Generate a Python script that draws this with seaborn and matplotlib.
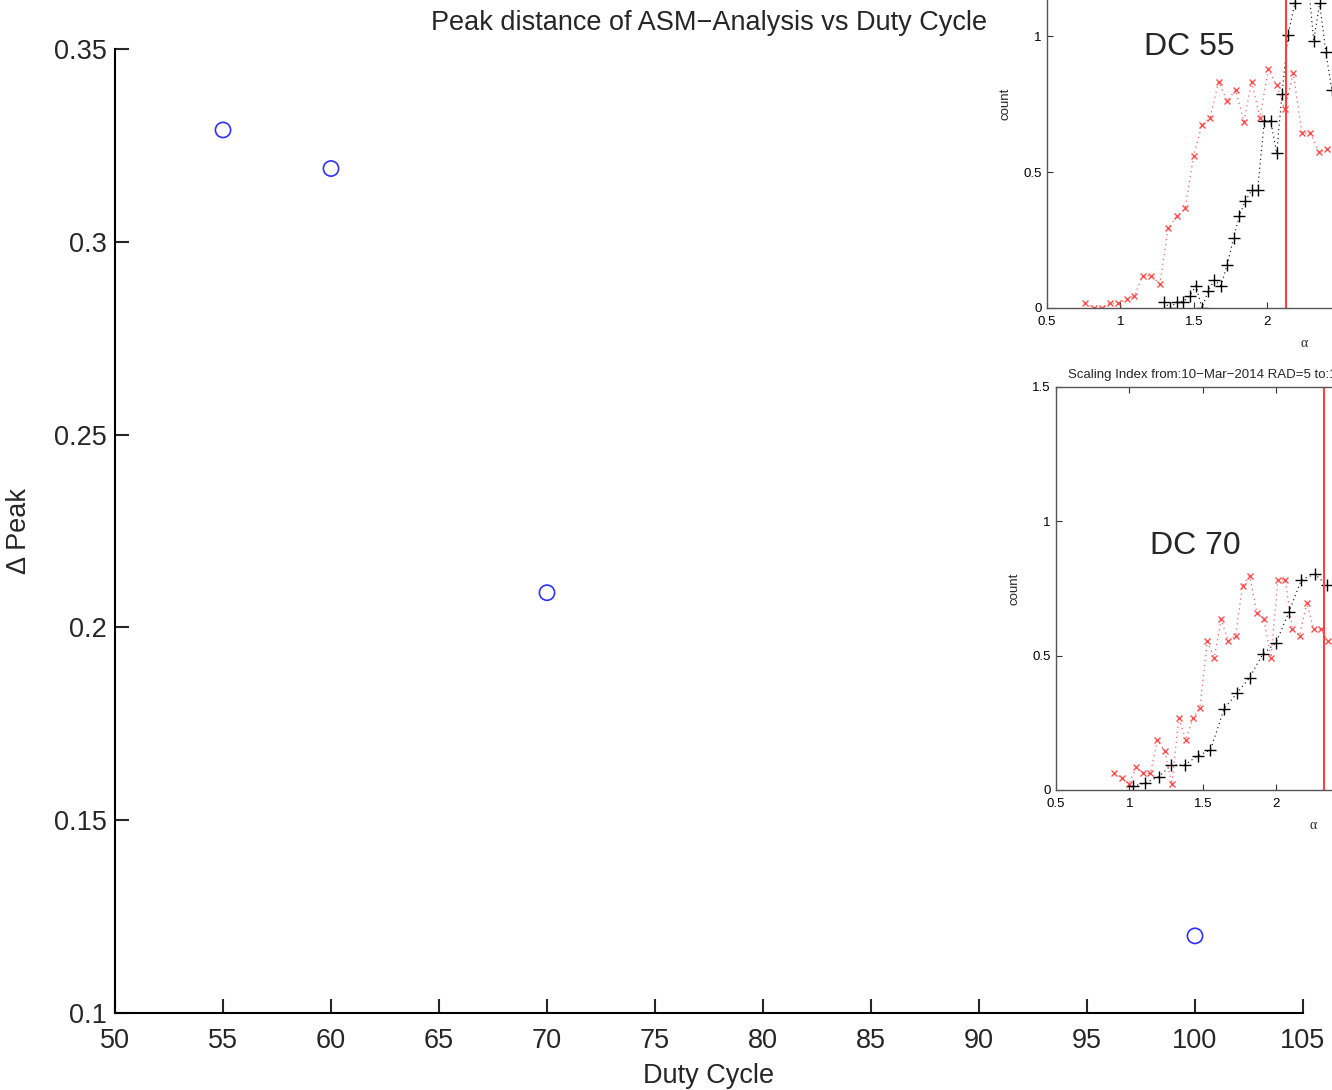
import matplotlib
matplotlib.use("Agg")
import matplotlib.pyplot as plt
import seaborn as sns
import numpy as np

# main chart data
duty_cycle = [55, 60, 70, 100]
delta_peak = [0.329, 0.319, 0.209, 0.120]

# inset DC 55 (scaling index histograms)
dc55_red_alpha = [0.761, 0.818, 0.875, 0.93, 0.986, 1.043, 1.095, 1.152, 1.211, 1.268,
                  1.325, 1.384, 1.441, 1.498, 1.555, 1.611, 1.668, 1.727, 1.784, 1.841,
                  1.893, 1.95, 2.007, 2.064, 2.12, 2.177, 2.236, 2.293, 2.35, 2.407]
dc55_red_count = [0.018, 0.0, 0.0, 0.018, 0.018, 0.033, 0.045, 0.119, 0.119, 0.088,
                  0.294, 0.337, 0.367, 0.559, 0.673, 0.700, 0.832, 0.761, 0.802, 0.685,
                  0.832, 0.700, 0.878, 0.819, 0.731, 0.863, 0.643, 0.643, 0.572, 0.585]
dc55_blk_alpha = [1.295, 1.339, 1.386, 1.427, 1.473, 1.514, 1.555, 1.598, 1.639, 1.684,
                  1.727, 1.77, 1.809, 1.85, 1.893, 1.934, 1.98, 2.023, 2.064, 2.10,
                  2.141, 2.187, 2.23, 2.27, 2.316, 2.357, 2.398, 2.44]
dc55_blk_count = [0.023, 0.0, 0.023, 0.023, 0.045, 0.082, 0.0, 0.064, 0.102, 0.082,
                  0.159, 0.257, 0.337, 0.394, 0.432, 0.432, 0.689, 0.689, 0.569, 0.786,
                  1.004, 1.12, 1.30, 1.25, 0.983, 1.12, 0.942, 0.80]
dc55_mark = 2.127

# inset DC 70
dc70_red_alpha = [0.898, 0.948, 0.995, 1.045, 1.095, 1.143, 1.191, 1.239, 1.289, 1.336,
                  1.384, 1.432, 1.48, 1.53, 1.577, 1.625, 1.673, 1.723, 1.77, 1.818,
                  1.868, 1.916, 1.964, 2.011, 2.061, 2.109, 2.159, 2.207, 2.255, 2.305,
                  2.352]
dc70_red_count = [0.062, 0.045, 0.022, 0.084, 0.062, 0.062, 0.186, 0.146, 0.022, 0.267,
                  0.186, 0.267, 0.307, 0.553, 0.493, 0.635, 0.553, 0.575, 0.759, 0.798,
                  0.660, 0.637, 0.493, 0.783, 0.783, 0.598, 0.575, 0.697, 0.598, 0.598,
                  0.553]
dc70_blk_alpha = [1.023, 1.109, 1.2, 1.286, 1.375, 1.464, 1.552, 1.645, 1.732, 1.818,
                  1.907, 1.998, 2.086, 2.171, 2.262, 2.346]
dc70_blk_count = [0.014, 0.026, 0.05, 0.093, 0.093, 0.127, 0.149, 0.303, 0.36, 0.418,
                  0.505, 0.548, 0.662, 0.783, 0.803, 0.762]
dc70_mark = 2.325

sns.set_style("white")
plt.rcParams['font.family'] = ['Liberation Sans', 'DejaVu Sans']

W, H = 1332, 1090
fig = plt.figure(figsize=(W / 100, H / 100), dpi=100)


def px_axes(left, top, right, bottom):
    return fig.add_axes([left / W, 1 - bottom / H, (right - left) / W, (bottom - top) / H])


# main axes
ax = px_axes(115, 49, 1303, 1013)
sns.scatterplot(x=duty_cycle, y=delta_peak, ax=ax, marker='o', s=120,
                facecolor='none', edgecolor='#3030ff', linewidth=1.2, zorder=3)
ax.set_xlim(50, 105)
ax.set_ylim(0.1, 0.35)
ax.set_xticks(np.arange(50, 106, 5))
ax.set_yticks([0.1, 0.15, 0.2, 0.25, 0.3, 0.35])
ax.yaxis.set_major_formatter(plt.FuncFormatter(lambda v, _: f'{v:g}'))
for s in ['top', 'right']:
    ax.spines[s].set_visible(False)
for s in ['left', 'bottom']:
    ax.spines[s].set_color('black')
    ax.spines[s].set_linewidth(1.5)
ax.tick_params(direction='in', length=10, width=1.5, labelsize=19.5,
               left=True, bottom=True)
ax.tick_params(axis='x', pad=11)
ax.tick_params(axis='y', pad=6)
ax.set_xlabel('Duty Cycle', fontsize=19.5, labelpad=6)
ax.set_ylabel('\u0394 Peak', fontsize=19.5, labelpad=16)
ax.set_title('Peak distance of ASM\u2212Analysis vs Duty Cycle', fontsize=19.5, pad=14)


def draw_inset(iax, red_a, red_c, blk_a, blk_c, mark):
    iax.set_facecolor('white')
    sns.lineplot(x=red_a, y=red_c, ax=iax, color='#ff5050', marker='x', markersize=4.5,
                 markeredgewidth=1, markeredgecolor='#ff4040', linestyle=(0, (1, 3)),
                 linewidth=0.9, alpha=0.9, estimator=None, sort=False)
    sns.lineplot(x=blk_a, y=blk_c, ax=iax, color='black', marker='+', markersize=8,
                 markeredgewidth=1, markeredgecolor='black', linestyle=(0, (1, 3)),
                 linewidth=0.8, estimator=None, sort=False)
    iax.axvline(mark, color='#ff4040', linewidth=1.5)
    iax.set_xlim(0.5, 4)
    iax.set_ylim(0, 1.5)
    iax.set_xticks([0.5, 1, 1.5, 2, 2.5, 3, 3.5, 4])
    iax.set_yticks([0, 0.5, 1, 1.5])
    iax.xaxis.set_major_formatter(plt.FuncFormatter(lambda v, _: f'{v:g}'))
    iax.yaxis.set_major_formatter(plt.FuncFormatter(lambda v, _: f'{v:g}'))
    for s in iax.spines.values():
        s.set_color('#555555')
        s.set_linewidth(1.0)
    iax.tick_params(direction='in', length=4, width=0.8, labelsize=9.5,
                    top=True, right=True, left=True, bottom=True, colors='#333333',
                    labelcolor='black')
    iax.tick_params(axis='x', pad=6)
    iax.tick_params(axis='y', pad=4)
    iax.set_xlabel('\u03b1', fontsize=10, family=['Liberation Serif', 'DejaVu Serif'],
                   labelpad=6)
    iax.set_ylabel('count', fontsize=9.5, labelpad=8)
    return iax


in1 = px_axes(1047, -100, 1561, 308)
draw_inset(in1, dc55_red_alpha, dc55_red_count, dc55_blk_alpha, dc55_blk_count, dc55_mark)
in1.text(1.47, 0.96, 'DC 55', fontsize=23, ha='center', va='center')

in2 = px_axes(1056, 387, 1570, 790)
draw_inset(in2, dc70_red_alpha, dc70_red_count, dc70_blk_alpha, dc70_blk_count, dc70_mark)
in2.text(1.45, 0.91, 'DC 70', fontsize=23, ha='center', va='center')
in2.text((1068 - 1056) / 514, 1.015,
         'Scaling Index from:10\u2212Mar\u22122014 RAD=5 to:10\u2212Mar\u22122014 DC=70',
         fontsize=9.5, ha='left', va='bottom', transform=in2.transAxes)

fig.savefig('out.png', dpi=100)
